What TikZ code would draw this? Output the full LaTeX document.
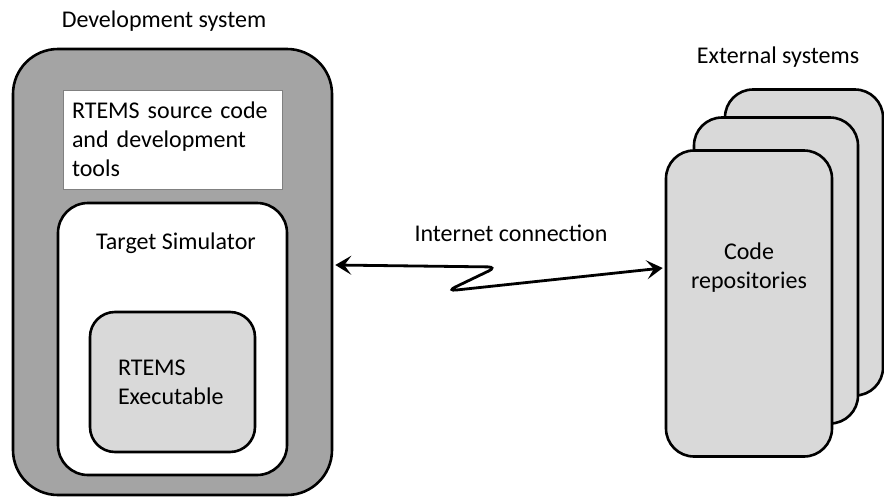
\documentclass[tikz,border=0pt]{standalone}
\usepackage{fontspec}
\setmainfont{Carlito}
\usetikzlibrary{arrows.meta}
\definecolor{devgray}{HTML}{A4A4A4}
\definecolor{boxgray}{HTML}{D9D9D9}

\begin{document}
\begin{tikzpicture}[x=1pt,y=-1pt,
  font=\fontsize{24}{29}\selectfont,
  rbox/.style={draw,line width=2.6pt,rounded corners=#1,inner sep=0pt},
  card/.style={rbox=28pt,fill=boxgray,minimum height=306pt},
  label/.style={inner sep=0pt},
  link/.style={line width=2.8pt,rounded corners=9pt,
    {Stealth[length=16pt,width=19pt,inset=7pt]}-{Stealth[length=16pt,width=19pt,inset=7pt]}}]
  \useasboundingbox (0,0) rectangle (884,498);

  % development system
  \node[label] (devlabel) at (164,21) {Development system};
  \node[rbox=45pt,fill=devgray,minimum width=319pt,minimum height=446pt] (devsys) at (172.5,272) {};
  \node[draw=gray,line width=0.8pt,fill=white,minimum width=219pt,minimum height=99pt,
    text width=201pt,inner xsep=9pt,align=left] (tools) at (172.5,139.5)
    {RTEMS source code\\and development\\tools};
  % target simulator
  \node[rbox=30pt,fill=white,minimum width=229pt,minimum height=272pt] (sim) at (172.5,339) {};
  \node[label] (simlabel) at (176,243) {Target Simulator};
  \node[rbox=25pt,fill=boxgray,minimum width=165pt,minimum height=140pt,
    inner xsep=28pt,text width=109pt,align=left] (exe) at (172.5,382) {RTEMS\\Executable};

  % external systems, back to front
  \node[label] (extlabel) at (778,57) {External systems};
  \node[card,minimum width=158pt] (card3) at (804,242.5) {};
  \node[card,minimum width=164pt] (card2) at (776,270.5) {};
  \node[card,minimum width=166pt] (card1) at (749,303.5) {};
  \node[label,align=center] (repos) at (749,268) {Code\\repositories};

  % internet connection
  \node[label] (netlabel) at (511,233) {Internet connection};
  \coordinate (ltip) at ([xshift=2pt]devsys.east |- 0,265);
  \coordinate (rtip) at ([xshift=-2pt]card1.west |- 0,268);
  \draw[link] (ltip) -- (497,267) -- (447,291) -- (rtip);
\end{tikzpicture}
\end{document}
